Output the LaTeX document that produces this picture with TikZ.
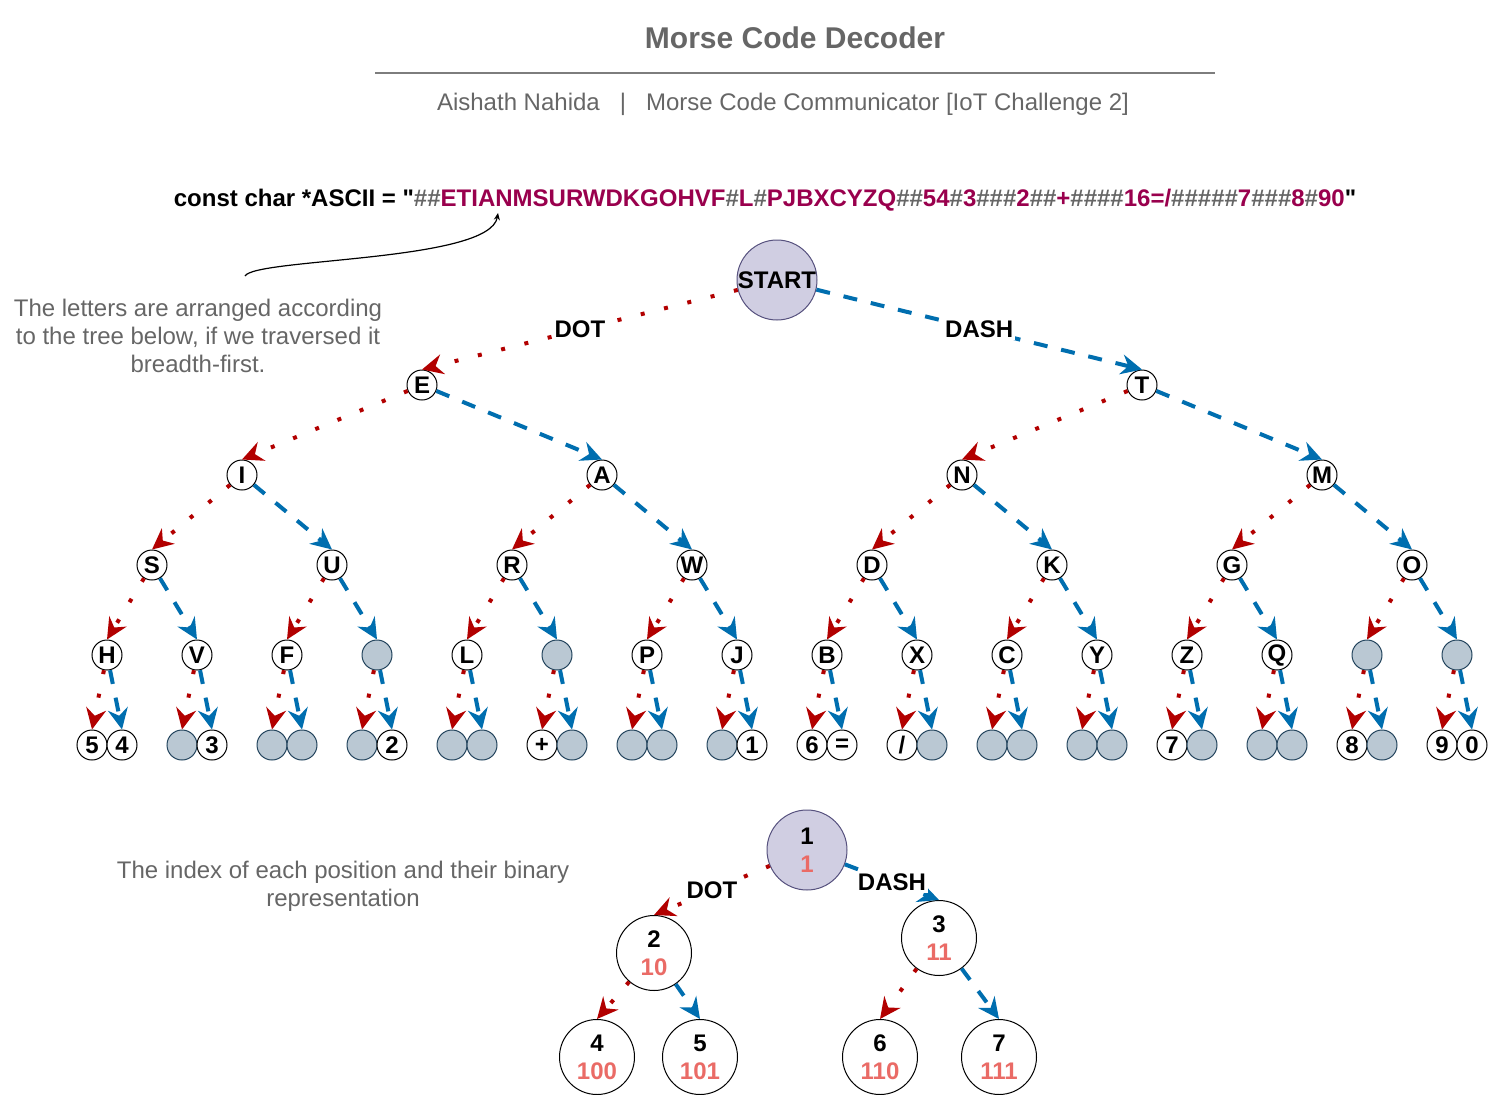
\documentclass[tikz,border=0pt]{standalone}
\usepackage{fontspec}
\setmainfont{Liberation Sans}[Ligatures=TeXOff]
\usetikzlibrary{arrows.meta}
\definecolor{cdot}{HTML}{B20000}
\definecolor{cdash}{HTML}{006EAF}
\definecolor{cgrey}{HTML}{666666}
\definecolor{cwine}{HTML}{99004D}
\definecolor{cslate}{HTML}{BAC8D3}
\definecolor{cslateline}{HTML}{23445D}
\definecolor{cpurple}{HTML}{D0CEE2}
\definecolor{cpurpleline}{HTML}{56517E}
\definecolor{csalmon}{HTML}{EA6B66}
\newcommand{\hashpart}[1]{\textcolor{cgrey}{#1}}
\newcommand{\codepart}[1]{\textcolor{cwine}{#1}}
\tikzset{
  every picture/.style={x=1pt, y=-1pt},
  letter/.style={circle, draw=black, fill=white, line width=1pt, minimum size=30pt, inner sep=0pt, font=\fontsize{24}{28}\selectfont\bfseries},
  blank/.style={letter, draw=cslateline, fill=cslate},
  dotedge/.style={draw=cdot, line width=4pt, dash pattern=on 4pt off 20pt, -{Stealth[length=21pt, width=20pt, inset=7pt]}},
  dashedge/.style={draw=cdash, line width=4pt, dash pattern=on 14pt off 14pt, -{Stealth[length=21pt, width=20pt, inset=7pt]}},
  edgelabel/.style={fill=white, inner sep=2pt, font=\fontsize{24}{28}\selectfont\bfseries},
  note/.style={text=cgrey, align=center, font=\fontsize{24}{28}\selectfont},
}

\begin{document}
\begin{tikzpicture}[index/.style={circle, draw=black, fill=white, line width=1pt, minimum size=75pt, inner sep=0pt, align=center, font=\fontsize{24}{28}\selectfont\bfseries},
                    root/.style={index, fill=cpurple, draw=cpurpleline, minimum size=80pt}]
  \useasboundingbox (0,0) rectangle (1489,1095);
  % header
  \node[font=\fontsize{30}{36}\selectfont\bfseries, text=cgrey] (title) at (795,38) {Morse Code Decoder};
  \draw[cgrey!85, line width=1.5pt] (375,73) -- (1215,73);
  \node[note] (byline) at (783,104) {Aishath Nahida\hspace*{20pt}|\hspace*{20pt}Morse Code Communicator [IoT Challenge 2]};
  % the lookup string
  \node[font=\fontsize{24}{28}\selectfont\bfseries] (ascii) at (765,200) {const char *ASCII = "\hashpart{\#\#}\codepart{ETIANMSURWDKGOHVF}\hashpart{\#}\codepart{L}\hashpart{\#}\codepart{PJBXCYZQ}\hashpart{\#\#}\codepart{54}\hashpart{\#}\codepart{3}\hashpart{\#\#\#}\codepart{2}\hashpart{\#\#}\codepart{+}\hashpart{\#\#\#\#}\codepart{16=/}\hashpart{\#\#\#\#\#}\codepart{7}\hashpart{\#\#\#}\codepart{8}\hashpart{\#}\codepart{90}"};
  \node[note] (treenote) at (198,336) {The letters are arranged according\\to the tree below, if we traversed it\\breadth-first.};
  \coordinate (hook) at (245,276);
  \coordinate (pin) at (498,213);
  \draw[line width=1.2pt, -{Stealth[length=7pt, width=6pt]}] (hook) .. controls (255,258) and (490,262) .. (pin);
  % decoding tree, nodes named by their index in the string
  \node[letter, fill=cpurple, draw=cpurpleline, minimum size=80pt] (n1) at (777,280) {START};
  \foreach \lev/\xa/\dx/\row in {2/422/720/{E,T}, 3/242/360/{I,A,N,M}, 4/152/180/{S,U,R,W,D,K,G,O},
      5/107/90/{H,V,F,-,L,-,P,J,B,X,C,Y,Z,Q,-,-}} {
    \foreach \t [count=\k from 0] in \row {
      \pgfmathtruncatemacro{\i}{2^(\lev-1)+\k}
      \pgfmathsetmacro{\x}{\xa+\dx*\k}
      \pgfmathsetmacro{\y}{385+90*(\lev-2)}
      \if\t- \node[blank] (n\i) at (\x,\y) {}; \else \node[letter] (n\i) at (\x,\y) {\t}; \fi
    }
  }
  % last row: pairs of touching circles
  \foreach \t [count=\k from 0] in {5,4,-,3,-,-,-,2,-,-,+,-,-,-,-,1,6,=,{/},-,-,-,-,-,7,-,-,-,8,-,9,0} {
    \pgfmathtruncatemacro{\i}{32+\k}
    \pgfmathsetmacro{\x}{92+45*\k-15*mod(\k,2)}
    \if\t- \node[blank] (n\i) at (\x,745) {}; \else \node[letter] (n\i) at (\x,745) {\t}; \fi
  }
  \draw[dotedge] (n1) -- node[edgelabel] {DOT} (n2.north);
  \draw[dashedge] (n1) -- node[edgelabel] {DASH} (n3.north);
  \foreach \i in {4,...,63} {
    \pgfmathtruncatemacro{\p}{\i/2}
    \ifodd\i \draw[dashedge] (n\p) -- (n\i.north); \else \draw[dotedge] (n\p) -- (n\i.north); \fi
  }
  % index tree
  \node[note] (indexnote) at (343,886) {The index of each position and their binary\\representation};
  \node[root] (b1) at (807,850) {1\\\textcolor{csalmon}{1}};
  \foreach \i/\x/\y/\bin in {2/654/953/10, 3/939/938/11, 4/597/1057/100, 5/700/1057/101, 6/880/1057/110, 7/999/1057/111}
    \node[index] (b\i) at (\x,\y) {\i\\\textcolor{csalmon}{\bin}};
  \draw[dotedge] (b1) -- node[edgelabel] {DOT} (b2.north);
  \draw[dashedge] (b1) -- node[edgelabel] {DASH} (b3.north);
  \draw[dotedge] (b2) -- (b4.north);
  \draw[dashedge] (b2) -- (b5.north);
  \draw[dotedge] (b3) -- (b6.north);
  \draw[dashedge] (b3) -- (b7.north);
\end{tikzpicture}
\end{document}
